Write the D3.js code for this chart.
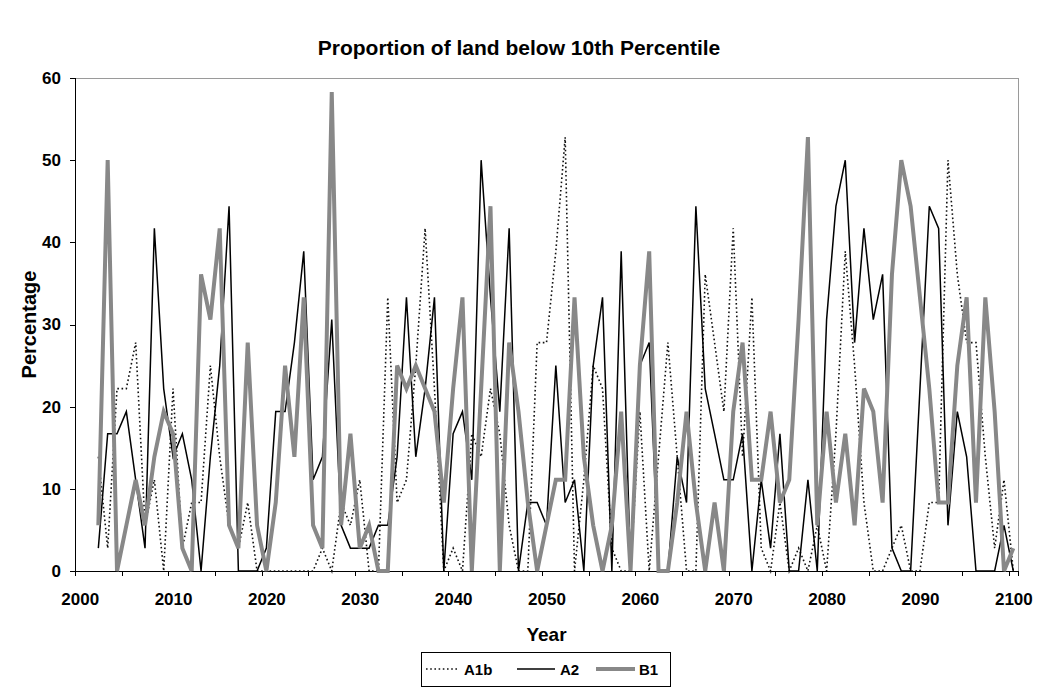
<!DOCTYPE html>
<html>
<head>
  <meta charset="utf-8">
  <script src="https://d3js.org/d3.v7.min.js"></script>
  <style>
  body{
    margin:0;
    background:#fff;
  }
  text{
    font-family:"Liberation Sans", Arial, sans-serif;
    font-weight:bold;
    fill:#000;
  }
  .axis path, .axis line{
    stroke:#000;
    shape-rendering:crispEdges;
  }
  </style>
</head>
<body>
  <svg id="chart" width="1039" height="690"></svg>
<script>
// first year with data; axis runs 2000..2100 as categories
var firstYear = 2002;
var axisYears = [2000, 2100];
var labelYears = [2000, 2010, 2020, 2030, 2040, 2050, 2060, 2070, 2080, 2090, 2100];
var yTicks = [0, 10, 20, 30, 40, 50, 60];
var seriesNames = ["A1b", "A2", "B1"];

var a1b = [13.9, 2.78, 22.2, 22.2, 27.8, 5.56, 11.1, 0, 22.2, 2.78,
  8.33, 8.33, 25, 13.9, 5.56, 2.78, 8.33, 0, 0, 0,
  0, 0, 0, 0, 2.78, 0, 8.33, 5.56, 11.1, 0,
  0, 33.3, 8.33, 11.1, 25, 41.7, 22.2, 0, 2.78, 0,
  16.7, 13.9, 22.2, 16.7, 5.56, 0, 0, 27.8, 27.8, 38.9,
  52.8, 0, 11.1, 25, 22.2, 2.78, 0, 0, 19.4, 0,
  13.9, 27.8, 13.9, 0, 0, 36.1, 27.8, 19.4, 41.7, 13.9,
  33.3, 2.78, 0, 8.33, 0, 2.78, 0, 5.56, 0, 16.7,
  38.9, 25, 8.33, 0, 0, 2.78, 5.56, 0, 0, 8.33,
  8.33, 50, 36.1, 27.8, 27.8, 13.9, 2.78, 11.1, 0];

var a2 = [2.78, 16.7, 16.7, 19.4, 11.1, 2.78, 41.7, 22.2, 13.9, 16.7,
  11.1, 0, 13.9, 25, 44.4, 0, 0, 0, 2.78, 19.4,
  19.4, 27.8, 38.9, 11.1, 13.9, 30.6, 5.56, 2.78, 2.78, 2.78,
  5.56, 5.56, 13.9, 33.3, 13.9, 22.2, 33.3, 0, 16.7, 19.4,
  11.1, 50, 33.3, 19.4, 41.7, 0, 8.33, 8.33, 5.56, 25,
  8.33, 11.1, 0, 25, 33.3, 0, 38.9, 0, 25, 27.8,
  0, 0, 13.9, 8.33, 44.4, 22.2, 16.7, 11.1, 11.1, 16.7,
  0, 11.1, 2.78, 16.7, 0, 0, 11.1, 0, 30.6, 44.4,
  50, 27.8, 41.7, 30.6, 36.1, 2.78, 0, 0, 22.2, 44.4,
  41.7, 5.56, 19.4, 13.9, 0, 0, 0, 5.56, 0];

var b1 = [5.56, 50, 0, 5.56, 11.1, 5.56, 13.9, 19.4, 16.7, 2.78,
  0, 36.1, 30.6, 41.7, 5.56, 2.78, 27.8, 5.56, 0, 8.33,
  25, 13.9, 33.3, 5.56, 2.78, 58.3, 5.56, 16.7, 2.78, 5.56,
  0, 0, 25, 22.2, 25, 22.2, 19.4, 8.33, 22.2, 33.3,
  0, 22.2, 44.4, 0, 27.8, 19.4, 8.33, 0, 5.56, 11.1,
  11.1, 33.3, 13.9, 5.56, 0, 5.56, 19.4, 0, 25, 38.9,
  0, 0, 8.33, 19.4, 8.33, 0, 8.33, 0, 19.4, 27.8,
  11.1, 11.1, 19.4, 8.33, 11.1, 30.6, 52.8, 5.56, 19.4, 8.33,
  16.7, 5.56, 22.2, 19.4, 8.33, 36.1, 50, 44.4, 33.3, 22.2,
  8.33, 8.33, 25, 33.3, 8.33, 33.3, 19.4, 0, 2.78];

var svg = d3.select("#chart"),
    margin = {top:78, right:21, bottom:119, left:75},
    width = +svg.attr("width") - margin.left - margin.right,
    height = +svg.attr("height") - margin.top - margin.bottom;

// each year is a category slot; points sit in the middle of the slot
var x = d3.scaleLinear()
  .domain([axisYears[0] - 0.5, axisYears[1] + 0.5])
  .range([0, width]);
var y = d3.scaleLinear().domain([0, 60]).range([height, 0]);

var g = svg.append("g")
  .attr("transform", "translate(" + margin.left + "," + margin.top + ")");

// plot area frame
g.append("rect")
  .attr("width", width)
  .attr("height", height)
  .attr("fill", "none")
  .attr("stroke", "#9a9a9a")
  .attr("shape-rendering", "crispEdges");

// tick marks between categories, every 5 years
var boundaries = d3.range(axisYears[0], axisYears[1] + 1, 5).map(function(d){ return d - 0.5; });
g.append("g")
  .attr("class", "axis")
  .attr("transform", "translate(0," + height + ")")
  .call(d3.axisBottom(x).tickValues(boundaries).tickSize(5).tickFormat(""));

g.append("g")
  .attr("class", "axis axis--x")
  .attr("transform", "translate(0," + height + ")")
  .call(d3.axisBottom(x).tickValues(labelYears).tickSize(0).tickPadding(22).tickFormat(d3.format("d")))
  .call(function(a){ a.select(".domain").remove(); })
  .selectAll("text")
  .attr("font-size", "17px");

g.append("g")
  .attr("class", "axis axis--y")
  .call(d3.axisLeft(y).tickValues(yTicks).tickSize(5).tickPadding(9))
  .selectAll("text")
  .attr("font-size", "17px");

g.selectAll(".axis text")
  .style("font-family", "'Liberation Sans', Arial, sans-serif")
  .style("font-weight", "bold");

var line = d3.line()
  .x(function(d, i){ return x(firstYear + i); })
  .y(function(d){ return y(d); });

var styles = {
  A1b: {color:"#111", width:1.6, dash:"1.6,2.6"},
  A2:  {color:"#000", width:1.5, dash:null},
  B1:  {color:"#888", width:4, dash:null}
};
var allSeries = [a1b, a2, b1];

seriesNames.forEach(function(name, k){
  var s = styles[name];
  g.append("path")
    .datum(allSeries[k])
    .attr("fill", "none")
    .attr("stroke", s.color)
    .attr("stroke-width", s.width)
    .attr("stroke-dasharray", s.dash)
    .attr("stroke-linejoin", "miter")
    .attr("d", line);
});

// title and axis titles
svg.append("text")
  .attr("x", 519)
  .attr("y", 55)
  .attr("text-anchor", "middle")
  .attr("font-size", "21px")
  .text("Proportion of land below 10th Percentile");

svg.append("text")
  .attr("x", margin.left + width / 2)
  .attr("y", 641)
  .attr("text-anchor", "middle")
  .attr("font-size", "19px")
  .text("Year");

svg.append("text")
  .attr("transform", "translate(36," + (margin.top + height / 2) + ") rotate(-90)")
  .attr("text-anchor", "middle")
  .attr("font-size", "20px")
  .text("Percentage");

// legend
var legend = svg.append("g").attr("transform", "translate(421,652)");
legend.append("rect")
  .attr("width", 249)
  .attr("height", 34)
  .attr("fill", "#fff")
  .attr("stroke", "#000")
  .attr("shape-rendering", "crispEdges");

var legendPos = [{x1:5, x2:38, tx:43}, {x1:96, x2:134, tx:139}, {x1:175, x2:214, tx:218}];
seriesNames.forEach(function(name, k){
  var s = styles[name], p = legendPos[k];
  legend.append("line")
    .attr("x1", p.x1).attr("x2", p.x2)
    .attr("y1", 17).attr("y2", 17)
    .attr("stroke", s.color)
    .attr("stroke-width", s.width)
    .attr("stroke-dasharray", s.dash);
  legend.append("text")
    .attr("x", p.tx)
    .attr("y", 23)
    .attr("font-size", "15px")
    .text(name);
});
</script>
</body>
</html>
